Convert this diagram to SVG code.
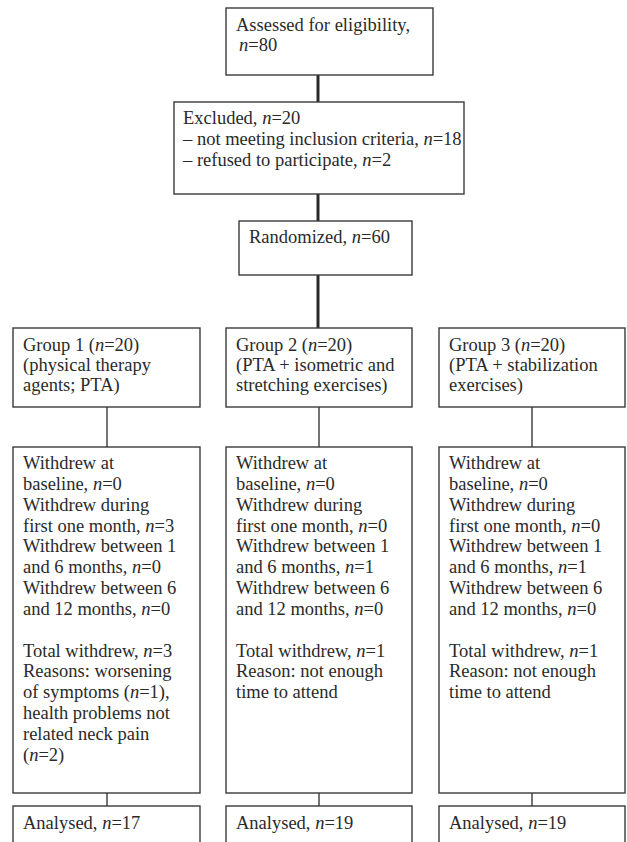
<svg xmlns="http://www.w3.org/2000/svg" width="627" height="842" viewBox="0 0 627 842">
<style>
.box{fill:#fff;stroke:#3a3a3a;stroke-width:1.4}
.t{font-family:"Liberation Serif","DejaVu Serif",serif;font-size:18.5px;fill:#2a2a2a}
.i{font-style:italic}
.thick{stroke:#2a2a2a;stroke-width:3;fill:none}
.thin{stroke:#3a3a3a;stroke-width:1.4;fill:none}
</style>
<rect width="627" height="842" fill="#fff"/>
<g id="connectors">
<line class="thick" x1="318" y1="75" x2="318" y2="102"/>
<line class="thick" x1="318" y1="194" x2="318" y2="221"/>
<line class="thick" x1="318" y1="275" x2="318" y2="328"/>
<line class="thin" x1="107" y1="407" x2="107" y2="447"/>
<line class="thin" x1="319" y1="407" x2="319" y2="447"/>
<line class="thin" x1="532" y1="407" x2="532" y2="447"/>
<line class="thin" x1="107" y1="793" x2="107" y2="806"/>
<line class="thin" x1="319" y1="793" x2="319" y2="806"/>
<line class="thin" x1="532" y1="793" x2="532" y2="806"/>
</g>
<g id="assessed">
<rect class="box" x="226" y="8" width="207" height="67"/>
<text class="t" x="236" y="31">Assessed for eligibility,</text>
<text class="t" x="239" y="51"><tspan class="i">n</tspan>=80</text>
</g>
<g id="excluded">
<rect class="box" x="174" y="102" width="290" height="92"/>
<text class="t" x="183" y="124">Excluded, <tspan class="i">n</tspan>=20</text>
<text class="t" x="183" y="145">– not meeting inclusion criteria, <tspan class="i">n</tspan>=18</text>
<text class="t" x="183" y="166">– refused to participate, <tspan class="i">n</tspan>=2</text>
</g>
<g id="randomized">
<rect class="box" x="239" y="221" width="173" height="54"/>
<text class="t" x="249" y="243">Randomized, <tspan class="i">n</tspan>=60</text>
</g>
<g id="group1">
<rect class="box" x="13" y="328" width="187" height="79"/>
<text class="t" x="23" y="351">Group 1 (<tspan class="i">n</tspan>=20)</text>
<text class="t" x="23" y="371">(physical therapy</text>
<text class="t" x="23" y="391">agents; PTA)</text>
</g>
<g id="group2">
<rect class="box" x="226" y="328" width="186" height="79"/>
<text class="t" x="236" y="351">Group 2 (<tspan class="i">n</tspan>=20)</text>
<text class="t" x="236" y="371">(PTA + isometric and</text>
<text class="t" x="236" y="391">stretching exercises)</text>
</g>
<g id="group3">
<rect class="box" x="439" y="328" width="186" height="79"/>
<text class="t" x="449" y="351">Group 3 (<tspan class="i">n</tspan>=20)</text>
<text class="t" x="449" y="371">(PTA + stabilization</text>
<text class="t" x="449" y="391">exercises)</text>
</g>
<g id="withdrew1">
<rect class="box" x="13" y="447" width="187" height="346"/>
<text class="t" x="23" y="469">Withdrew at</text>
<text class="t" x="23" y="490">baseline, <tspan class="i">n</tspan>=0</text>
<text class="t" x="23" y="511">Withdrew during</text>
<text class="t" x="23" y="532">first one month, <tspan class="i">n</tspan>=3</text>
<text class="t" x="23" y="552">Withdrew between 1</text>
<text class="t" x="23" y="573">and 6 months, <tspan class="i">n</tspan>=0</text>
<text class="t" x="23" y="594">Withdrew between 6</text>
<text class="t" x="23" y="615">and 12 months, <tspan class="i">n</tspan>=0</text>
<text class="t" x="23" y="657">Total withdrew, <tspan class="i">n</tspan>=3</text>
<text class="t" x="23" y="677">Reasons: worsening</text>
<text class="t" x="23" y="698">of symptoms (<tspan class="i">n</tspan>=1),</text>
<text class="t" x="23" y="719">health problems not</text>
<text class="t" x="23" y="740">related neck pain</text>
<text class="t" x="23" y="761">(<tspan class="i">n</tspan>=2)</text>
</g>
<g id="withdrew2">
<rect class="box" x="226" y="447" width="186" height="346"/>
<text class="t" x="236" y="469">Withdrew at</text>
<text class="t" x="236" y="490">baseline, <tspan class="i">n</tspan>=0</text>
<text class="t" x="236" y="511">Withdrew during</text>
<text class="t" x="236" y="532">first one month, <tspan class="i">n</tspan>=0</text>
<text class="t" x="236" y="552">Withdrew between 1</text>
<text class="t" x="236" y="573">and 6 months, <tspan class="i">n</tspan>=1</text>
<text class="t" x="236" y="594">Withdrew between 6</text>
<text class="t" x="236" y="615">and 12 months, <tspan class="i">n</tspan>=0</text>
<text class="t" x="236" y="657">Total withdrew, <tspan class="i">n</tspan>=1</text>
<text class="t" x="236" y="677">Reason: not enough</text>
<text class="t" x="236" y="698">time to attend</text>
</g>
<g id="withdrew3">
<rect class="box" x="439" y="447" width="186" height="346"/>
<text class="t" x="449" y="469">Withdrew at</text>
<text class="t" x="449" y="490">baseline, <tspan class="i">n</tspan>=0</text>
<text class="t" x="449" y="511">Withdrew during</text>
<text class="t" x="449" y="532">first one month, <tspan class="i">n</tspan>=0</text>
<text class="t" x="449" y="552">Withdrew between 1</text>
<text class="t" x="449" y="573">and 6 months, <tspan class="i">n</tspan>=1</text>
<text class="t" x="449" y="594">Withdrew between 6</text>
<text class="t" x="449" y="615">and 12 months, <tspan class="i">n</tspan>=0</text>
<text class="t" x="449" y="657">Total withdrew, <tspan class="i">n</tspan>=1</text>
<text class="t" x="449" y="677">Reason: not enough</text>
<text class="t" x="449" y="698">time to attend</text>
</g>
<g id="analysed1">
<rect class="box" x="13" y="806" width="187" height="50"/>
<text class="t" x="23" y="829">Analysed, <tspan class="i">n</tspan>=17</text>
</g>
<g id="analysed2">
<rect class="box" x="226" y="806" width="186" height="50"/>
<text class="t" x="236" y="829">Analysed, <tspan class="i">n</tspan>=19</text>
</g>
<g id="analysed3">
<rect class="box" x="439" y="806" width="186" height="50"/>
<text class="t" x="449" y="829">Analysed, <tspan class="i">n</tspan>=19</text>
</g>
</svg>
